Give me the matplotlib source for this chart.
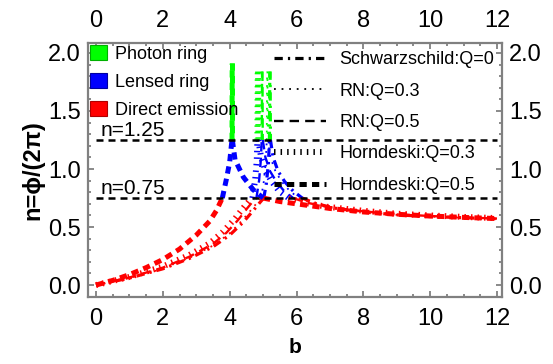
import matplotlib
matplotlib.use("Agg")
import matplotlib.pyplot as plt
import numpy as np
from matplotlib.lines import Line2D
from matplotlib.patches import Patch

plt.rcParams['font.family'] = ['Liberation Sans', 'DejaVu Sans']

# ---------------- data ----------------
models = ["Schwarzschild:Q=0", "RN:Q=0.3", "RN:Q=0.5", "Horndeski:Q=0.3", "Horndeski:Q=0.5"]

# Schwarzschild
schw_bL = [0, 1, 2, 2.8, 3.5, 4.0, 4.4, 4.7, 4.9, 5.02, 5.1, 5.16, 5.19, 5.2]
schw_nL = [0, 0.06, 0.14, 0.23, 0.33, 0.43, 0.54, 0.64, 0.71, 0.75, 0.88, 1.05, 1.25, 1.84]
schw_bR = [5.21, 5.22, 5.3, 5.45, 5.65, 5.9, 6.17, 6.6, 7.2, 8, 9, 10, 11, 12]
schw_nR = [1.84, 1.25, 1.1, 0.98, 0.89, 0.81, 0.75, 0.7, 0.66, 0.63, 0.605, 0.59, 0.58, 0.57]

# RN Q=0.3
rn3_bL = [0, 1, 2, 2.8, 3.5, 4.0, 4.35, 4.65, 4.85, 4.94, 5.02, 5.08, 5.11, 5.12]
rn3_nL = [0, 0.06, 0.14, 0.235, 0.34, 0.445, 0.55, 0.65, 0.72, 0.75, 0.89, 1.06, 1.25, 1.84]
rn3_bR = [5.13, 5.14, 5.22, 5.37, 5.56, 5.8, 6.07, 6.5, 7.1, 8, 9, 10, 11, 12]
rn3_nR = [1.84, 1.25, 1.1, 0.98, 0.89, 0.81, 0.75, 0.705, 0.665, 0.63, 0.605, 0.59, 0.58, 0.57]

# RN Q=0.5
rn5_bL = [0, 1, 2, 2.8, 3.5, 3.9, 4.25, 4.52, 4.72, 4.8, 4.88, 4.93, 4.96, 4.97]
rn5_nL = [0, 0.065, 0.15, 0.245, 0.355, 0.45, 0.56, 0.66, 0.73, 0.75, 0.9, 1.07, 1.25, 1.84]
rn5_bR = [4.98, 4.99, 5.07, 5.21, 5.4, 5.63, 5.9, 6.3, 7.0, 8, 9, 10, 11, 12]
rn5_nR = [1.84, 1.25, 1.1, 0.98, 0.89, 0.81, 0.75, 0.71, 0.67, 0.635, 0.61, 0.595, 0.583, 0.573]

# Horndeski Q=0.3
h3_bL = [0, 1, 2, 2.8, 3.4, 3.8, 4.15, 4.42, 4.6, 4.68, 4.76, 4.81, 4.83, 4.84]
h3_nL = [0, 0.07, 0.16, 0.26, 0.36, 0.46, 0.57, 0.67, 0.73, 0.75, 0.9, 1.07, 1.25, 1.84]
h3_bR = [4.85, 4.86, 4.94, 5.08, 5.26, 5.48, 5.76, 6.2, 6.9, 8, 9, 10, 11, 12]
h3_nR = [1.84, 1.25, 1.1, 0.98, 0.89, 0.81, 0.75, 0.71, 0.675, 0.64, 0.615, 0.6, 0.587, 0.577]

# Horndeski Q=0.5
h5_bL = [0, 0.5, 1, 1.5, 2, 2.5, 3, 3.4, 3.6, 3.78, 3.9, 4.0, 4.05, 4.07, 4.075]
h5_nL = [0, 0.04, 0.09, 0.15, 0.22, 0.31, 0.43, 0.55, 0.64, 0.75, 0.91, 1.06, 1.2, 1.25, 1.91]
h5_bR = [4.08, 4.08, 4.16, 4.41, 4.71, 5.0, 5.5, 6, 7, 8, 9, 10, 11, 12]
h5_nR = [1.91, 1.25, 1.08, 0.93, 0.82, 0.75, 0.72, 0.70, 0.66, 0.63, 0.61, 0.595, 0.583, 0.573]

n_levels = [0.75, 1.25]
level_labels = ["n=0.75", "n=1.25"]
x_ticks = [0, 2, 4, 6, 8, 10, 12]
y_ticks = [0.0, 0.5, 1.0, 1.5, 2.0]
region_names = ["Photon ring", "Lensed ring", "Direct emission"]

# ---------------- styles ----------------
GREEN, BLUE, RED = "#00ff00", "#0000ff", "#ff0000"
styles = {
    "Schwarzschild:Q=0": dict(lw=2.3, ls=(0, (2.6, 1.6, 0.7, 1.6))),
    "RN:Q=0.3": dict(lw=1.3, ls=(0, (1, 3.2))),
    "RN:Q=0.5": dict(lw=1.7, ls=(0, (4, 2.6))),
    "Horndeski:Q=0.3": dict(lw=4.3, ls=(0, (0.25, 0.85))),
    "Horndeski:Q=0.5": dict(lw=3.6, ls=(0, (1.45, 1.05))),
}
data = {
    "Schwarzschild:Q=0": (schw_bL, schw_nL, schw_bR, schw_nR),
    "RN:Q=0.3": (rn3_bL, rn3_nL, rn3_bR, rn3_nR),
    "RN:Q=0.5": (rn5_bL, rn5_nL, rn5_bR, rn5_nR),
    "Horndeski:Q=0.3": (h3_bL, h3_nL, h3_bR, h3_nR),
    "Horndeski:Q=0.5": (h5_bL, h5_nL, h5_bR, h5_nR),
}

fig = plt.figure(figsize=(5.53, 3.64), dpi=100)
ax = fig.add_axes([88/553, 1-297/364, (502-88)/553, (297-43)/364])

def draw_branch(b, n, st):
    b = np.asarray(b, float); n = np.asarray(n, float)
    for color, mask in ((RED, n <= 0.75), (BLUE, (n >= 0.75) & (n <= 1.25)), (GREEN, n >= 1.25)):
        if mask.sum() >= 2:
            ax.plot(b[mask], n[mask], color=color, lw=st["lw"], ls=st["ls"],
                    dash_capstyle="butt", solid_capstyle="butt")

for m in models:
    bL, nL, bR, nR = data[m]
    draw_branch(bL, nL, styles[m])
    draw_branch(bR, nR, styles[m])

# reference levels
for lv, lab in zip(n_levels, level_labels):
    ax.plot([x_ticks[0], x_ticks[-1]], [lv, lv], color="black", lw=1.8, ls=(0, (2.8, 2.0)))
    ax.text(0.15, lv + 0.035, lab, fontsize=15, va="baseline", ha="left")

ax.set_xlim(-0.24, 12.15)
ax.set_ylim(-0.103, 2.086)
ax.set_xticks(x_ticks)
ax.set_yticks(y_ticks)
ax.set_xticklabels([str(t) for t in x_ticks])
ax.set_yticklabels([f"{t:.1f}" for t in y_ticks])
ax.set_xticks(np.arange(0, 12.01, 0.5), minor=True)
ax.set_yticks(np.arange(0, 2.01, 0.1), minor=True)
ax.tick_params(which="both", direction="in", color="#808080", top=True, right=True,
               labeltop=True, labelright=True, labelsize=17, width=1.3)
ax.tick_params(which="major", length=4)
ax.tick_params(which="minor", length=2)
ax.tick_params(axis="x", which="major", pad=8)
ax.tick_params(axis="y", which="major", pad=5)
for s in ax.spines.values():
    s.set_color("#808080")
    s.set_linewidth(1.6)

ax.set_xlabel("b", fontsize=15, fontweight="bold", labelpad=6)
ax.set_ylabel("n=ϕ/(2π)", fontsize=17, fontweight="bold", labelpad=3)

# left legend
patches = [Patch(facecolor=c, edgecolor=e, lw=0.8) for c, e in
           ((GREEN, "#00b000"), (BLUE, "#0000a0"), (RED, "#b00000"))]
leg1 = ax.legend(patches, region_names, loc="upper left", bbox_to_anchor=(0.0, 1.0),
                 frameon=False, fontsize=13, handlelength=0.95, handleheight=0.85,
                 handletextpad=0.4, labelspacing=0.58, borderaxespad=0.05, borderpad=0.08)
ax.add_artist(leg1)

# right legend
lines = [Line2D([0], [0], color="black", lw=styles[m]["lw"], ls=styles[m]["ls"],
                dash_capstyle="butt") for m in models]
ax.legend(lines, models, loc="upper right", bbox_to_anchor=(1.0, 1.0), frameon=False,
          fontsize=13, handlelength=2.9, handletextpad=0.7, labelspacing=0.8,
          borderaxespad=0.05, borderpad=0.4)

fig.savefig("out.png", dpi=100)
